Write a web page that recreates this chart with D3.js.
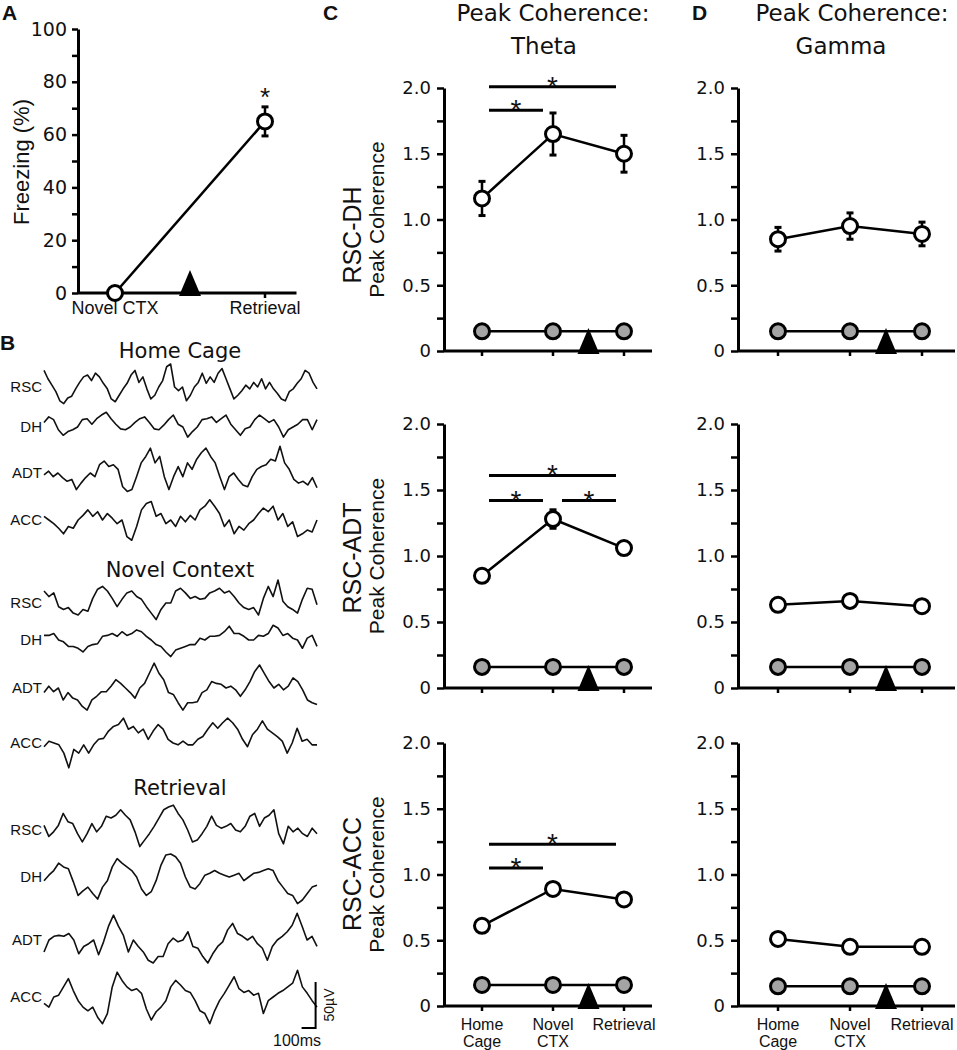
<!DOCTYPE html>
<html>
<head>
<meta charset="utf-8">
<script src="https://cdn.jsdelivr.net/npm/d3@7"></script>
<style>
body { margin: 0; background: #fff; }
text { fill: #111; }
</style>
</head>
<body>
<script>
//---------------- data ----------------
//panel A: freezing
var freezeGroups = ["Novel CTX", "Retrieval"];
var freezing = [0, 65];
var freezingErr = [0, 5.5];
var freezeTicks = [0, 10, 20, 30, 40, 50, 60, 70, 80, 90, 100];

//panel B: example LFP traces (uV, evenly sampled over the sweep)
var traceSites = ["RSC", "DH", "ADT", "ACC"];
var traceSessions = ["Home Cage", "Novel Context", "Retrieval"];
var traceDuration = 1950; //ms

var hcRSC = [18,9,2,-5,-15,-18,-12,-10,-2,5,11,13,7,15,11,4,-2,-13,-16,-9,-2,4,13,18,5,11,-2,-13,-9,0,7,22,25,0,-4,0,-15,-9,0,5,15,4,11,5,15,20,9,-2,-13,-9,-4,2,-2,5,0,9,-2,5,-2,-7,-13,-15,-5,-2,4,9,18,15,5,-2];
var hcDH = [5,11,8,-3,-9,-5,-3,0,8,9,3,9,13,16,9,3,-2,-3,0,5,9,11,5,-2,-3,2,8,13,3,0,-11,-5,0,8,9,11,5,9,13,3,-3,-9,-2,0,8,13,9,5,8,0,-11,-3,0,3,8,8,-3,8];
var hcADT = [-2,2,-4,0,-5,-9,-7,-18,-11,-5,0,-4,9,13,7,9,4,-15,-20,-18,-4,11,18,27,11,18,-4,-18,-4,7,-4,11,4,15,22,27,18,11,-4,-18,-4,0,-7,-13,-15,-4,4,7,9,15,13,29,11,4,-7,-11,-9,-13,-5,-16];
var hcACC = [4,0,-4,-9,-15,-7,-9,0,5,11,4,9,0,7,2,-4,0,-18,-22,-7,11,18,20,4,7,-4,0,-7,4,-2,5,0,11,15,22,15,7,-7,0,-15,-7,-11,-4,0,7,13,9,15,0,7,-7,-2,-18,-15,-11,-13,0];

var ncRSC = [13,7,11,-4,-7,-5,-11,-13,-7,-9,5,15,18,13,5,-4,4,11,13,7,4,-4,-11,-18,-7,0,0,13,16,11,5,7,4,5,11,13,16,11,13,7,0,-5,-7,-5,-13,5,18,7,25,2,-4,-7,-11,4,16,15,-2];
var ncDH = [5,5,7,0,-2,-7,-7,-9,-13,-7,-5,-4,4,5,7,4,9,5,7,11,9,4,0,-5,-7,-13,-18,-11,-9,-7,-5,-5,2,0,4,4,5,9,15,7,7,4,0,0,5,4,7,16,13,5,7,2,0,-9,2,5,-7];
var ncADT = [-5,2,-4,0,-13,-5,-11,-13,-20,-24,-13,-9,-4,-4,2,9,5,0,-5,-11,0,5,16,27,16,9,-5,-7,-16,-24,-16,-16,-15,-5,-2,7,5,4,0,2,-2,-9,-2,7,18,25,16,7,0,4,-2,2,11,7,-2,-13,-16,-18];
var ncACC = [-4,2,0,-2,-11,-27,-7,-11,-2,-11,-2,4,5,13,18,20,27,15,18,11,15,4,13,20,15,4,0,-2,2,-2,-2,4,7,15,22,16,22,27,22,15,4,-4,9,15,24,15,11,7,2,-11,0,16,2,4,-2,-2];

var rtRSC = [5,-7,-2,5,18,9,7,-4,-13,-4,7,-2,4,15,13,16,22,16,11,-2,-18,-11,-4,4,13,22,25,27,18,11,0,-13,-11,-4,4,15,5,2,4,7,0,-2,4,15,18,4,13,16,22,-4,-15,4,-2,2,-4,-7,2,-4];
var rtDH = [-4,2,7,15,11,9,-5,-20,-15,-11,-18,-24,-11,-4,11,20,15,11,7,0,-13,-20,-16,-4,13,24,25,22,15,0,-11,-13,-7,2,4,7,4,2,0,2,4,-4,0,4,5,7,9,7,-4,-11,-18,-20,-29,-25,-18,-11,-9];
var rtADT = [-13,0,4,5,4,7,0,-15,-7,-4,0,-16,-2,15,27,15,5,-13,0,-7,-13,-22,-25,-18,-18,-4,2,-2,0,9,-7,-9,-18,-25,-15,-7,-2,11,18,7,4,0,4,-4,-9,-22,-7,0,4,9,16,29,15,0,4,-7];
var rtACC = [-7,-11,0,2,11,20,7,-4,-11,-15,-11,-22,-29,-18,11,27,18,11,7,9,4,-13,-25,-16,-11,-4,11,18,13,7,5,-4,-15,-18,-29,-15,-4,4,13,22,9,5,7,2,4,-18,-4,0,4,7,11,15,29,11,4,-4,-11];

//panels C and D: peak coherence
var sessions = [["Home", "Cage"], ["Novel", "CTX"], ["Retrieval"]];
var coherenceTicks = [0, 0.25, 0.5, 0.75, 1, 1.25, 1.5, 1.75, 2];

var thetaDH = [1.16, 1.65, 1.50];
var thetaDHErr = [0.13, 0.16, 0.14];
var thetaDHShuf = [0.15, 0.15, 0.15];
var thetaDHSig = [[0, 2, 2.01], [0, 1, 1.83]];

var thetaADT = [0.85, 1.28, 1.06];
var thetaADTErr = [0.03, 0.07, 0.03];
var thetaADTShuf = [0.16, 0.16, 0.16];
var thetaADTSig = [[0, 2, 1.61], [0, 1, 1.42], [1, 2, 1.42]];

var thetaACC = [0.61, 0.89, 0.81];
var thetaACCErr = [0.03, 0.03, 0.03];
var thetaACCShuf = [0.16, 0.16, 0.16];
var thetaACCSig = [[0, 2, 1.23], [0, 1, 1.05]];

var gammaDH = [0.85, 0.95, 0.89];
var gammaDHErr = [0.09, 0.10, 0.09];
var gammaDHShuf = [0.15, 0.15, 0.15];

var gammaADT = [0.63, 0.66, 0.62];
var gammaADTErr = [0.03, 0.03, 0.03];
var gammaADTShuf = [0.16, 0.16, 0.16];

var gammaACC = [0.51, 0.45, 0.45];
var gammaACCErr = [0.02, 0.02, 0.02];
var gammaACCShuf = [0.15, 0.15, 0.15];

//---------------- drawing ----------------
var W = 957, H = 1050;
var grayFill = "#a4a4a4";
var helv = "'Liberation Sans', Arial, sans-serif";
var luc = "'DejaVu Sans', Verdana, sans-serif";

var svg = d3.select("body").append("svg")
    .attr("width", W)
    .attr("height", H);

//panel letters
[["A", 2, 20], ["B", 0, 350], ["C", 323, 20], ["D", 692, 20]].forEach(function (p) {
    svg.append("text")
        .attr("x", p[1]).attr("y", p[2])
        .style("font-family", helv)
        .style("font-weight", "bold")
        .style("font-size", "21px")
        .text(p[0]);
});

//styles an axis group: thick domain, thick ticks, tick label font
function styleAxis(g, font, size) {
    g.select(".domain").attr("stroke", "#000").attr("stroke-width", 3);
    g.selectAll(".tick line").attr("stroke", "#000").attr("stroke-width", 2.5);
    g.selectAll(".tick text")
        .style("font-family", font)
        .style("font-size", size)
        .attr("fill", "#111");
}

//up-pointing triangle that marks conditioning
function drawTriangle(g, x, y0) {
    g.append("path")
        .attr("d", "M" + x + "," + (y0 - 23) + "L" + (x + 11) + "," + (y0 + 3) + "L" + (x - 11) + "," + (y0 + 3) + "Z")
        .attr("fill", "#000");
}

//error bar with caps
function drawErr(g, x, yScale, v, e) {
    if (!e) return;
    g.append("line")
        .attr("x1", x).attr("x2", x)
        .attr("y1", yScale(v - e)).attr("y2", yScale(v + e))
        .attr("stroke", "#000").attr("stroke-width", 2.5);
    [v - e, v + e].forEach(function (w) {
        g.append("line")
            .attr("x1", x - 3.5).attr("x2", x + 3.5)
            .attr("y1", yScale(w)).attr("y2", yScale(w))
            .attr("stroke", "#000").attr("stroke-width", 3);
    });
}

//---------------- panel A ----------------
(function () {
    var g = svg.append("g");
    var yA = d3.scaleLinear().domain([0, 100]).range([293, 29]);
    var xA = d3.scaleLinear().domain([0, 1]).range([115, 265]);

    var yAxis = d3.axisLeft(yA)
        .tickValues(freezeTicks)
        .tickSize(6)
        .tickSizeOuter(0)
        .tickPadding(5)
        .tickFormat(function (d) { return d % 20 === 0 ? d : ""; });
    var ag = g.append("g").attr("transform", "translate(78,0)").call(yAxis);
    styleAxis(ag, luc, "19px");

    //x axis line
    g.append("line")
        .attr("x1", 78).attr("x2", xA(1.21))
        .attr("y1", yA(0)).attr("y2", yA(0))
        .attr("stroke", "#000").attr("stroke-width", 3);
    g.append("line")
        .attr("x1", xA(1)).attr("x2", xA(1))
        .attr("y1", yA(0)).attr("y2", yA(0) + 5)
        .attr("stroke", "#000").attr("stroke-width", 2.5);

    freezeGroups.forEach(function (d, i) {
        g.append("text")
            .attr("x", xA(i)).attr("y", 314)
            .attr("text-anchor", "middle")
            .style("font-family", helv)
            .style("font-size", "18px")
            .text(d);
    });

    g.append("text")
        .attr("transform", "translate(29,162) rotate(-90)")
        .attr("text-anchor", "middle")
        .style("font-family", helv)
        .style("font-size", "22px")
        .text("Freezing (%)");

    drawTriangle(g, xA(0.5), yA(0));

    g.append("path")
        .datum(freezing)
        .attr("d", d3.line().x(function (d, i) { return xA(i); }).y(function (d) { return yA(d); }))
        .attr("fill", "none").attr("stroke", "#000").attr("stroke-width", 2.5);

    freezing.forEach(function (v, i) { drawErr(g, xA(i), yA, v, freezingErr[i]); });

    g.selectAll(".pt").data(freezing).enter().append("circle")
        .attr("cx", function (d, i) { return xA(i); })
        .attr("cy", function (d) { return yA(d); })
        .attr("r", 7.5)
        .attr("fill", "#fff").attr("stroke", "#000").attr("stroke-width", 3);

    g.append("text")
        .attr("x", xA(1)).attr("y", yA(freezing[1] + freezingErr[1]) - 1)
        .attr("text-anchor", "middle")
        .style("font-family", helv)
        .style("font-size", "26px")
        .text("*");
})();

//---------------- panel B ----------------
(function () {
    var g = svg.append("g");
    var traces = [
        [hcRSC, hcDH, hcADT, hcACC],
        [ncRSC, ncDH, ncADT, ncACC],
        [rtRSC, rtDH, rtADT, rtACC]
    ];
    var titleY = [358, 577, 795];
    var centers = [
        [387, 427, 473, 520],
        [603, 640, 688, 743],
        [830, 877, 940, 997]
    ];
    var tScale = d3.scaleLinear().domain([0, traceDuration]).range([44, 317]);
    var uvPx = 46 / 50; //pixels per uV

    traceSessions.forEach(function (s, si) {
        g.append("text")
            .attr("x", 180).attr("y", titleY[si])
            .attr("text-anchor", "middle")
            .style("font-family", luc)
            .style("font-size", "21px")
            .text(s);

        traceSites.forEach(function (site, k) {
            var data = traces[si][k];
            var c = centers[si][k];
            var yT = d3.scaleLinear().domain([0, 1]).range([c, c - uvPx]);
            var xT = d3.scaleLinear().domain([0, data.length - 1]).range([tScale(0), tScale(traceDuration)]);

            g.append("text")
                .attr("x", 42).attr("y", c)
                .attr("dy", "0.35em")
                .attr("text-anchor", "end")
                .style("font-family", helv)
                .style("font-size", "15px")
                .text(site);

            g.append("path")
                .datum(data)
                .attr("d", d3.line()
                    .x(function (d, i) { return xT(i); })
                    .y(function (d) { return yT(d); }))
                .attr("fill", "none")
                .attr("stroke", "#111")
                .attr("stroke-width", 1.6)
                .attr("stroke-linejoin", "round");
        });
    });

    //scale bar: 50 uV, 100 ms
    var barX = tScale(traceDuration - 10), barY = 1028;
    g.append("path")
        .attr("d", "M" + tScale(traceDuration - 110) + "," + barY + "H" + barX + "V" + (barY - 50 * uvPx))
        .attr("fill", "none").attr("stroke", "#000").attr("stroke-width", 2);
    g.append("text")
        .attr("transform", "translate(" + (barX + 18) + "," + (barY - 25 * uvPx) + ") rotate(-90)")
        .attr("text-anchor", "middle")
        .style("font-family", helv)
        .style("font-size", "14px")
        .text("50\u00B5V");
    g.append("text")
        .attr("x", 297).attr("y", 1046)
        .attr("text-anchor", "middle")
        .style("font-family", helv)
        .style("font-size", "16px")
        .text("100ms");
})();

//---------------- panels C and D ----------------
var rows = [[351, 88], [688, 424], [1006, 743]];
var rowLabelMid = [235, 558, 874];
var cols = [
    { axisX: 444, endX: 652, range: [482, 624], title: ["Peak Coherence:", "Theta"], titleX: [553, 544] },
    { axisX: 738, endX: 955, range: [778, 922], title: ["Peak Coherence:", "Gamma"], titleX: [852, 841] }
];
var rowLabels = ["RSC-DH", "RSC-ADT", "RSC-ACC"];

var panels = [
    { col: 0, row: 0, vals: thetaDH, err: thetaDHErr, shuf: thetaDHShuf, sig: thetaDHSig },
    { col: 0, row: 1, vals: thetaADT, err: thetaADTErr, shuf: thetaADTShuf, sig: thetaADTSig },
    { col: 0, row: 2, vals: thetaACC, err: thetaACCErr, shuf: thetaACCShuf, sig: thetaACCSig },
    { col: 1, row: 0, vals: gammaDH, err: gammaDHErr, shuf: gammaDHShuf, sig: [] },
    { col: 1, row: 1, vals: gammaADT, err: gammaADTErr, shuf: gammaADTShuf, sig: [] },
    { col: 1, row: 2, vals: gammaACC, err: gammaACCErr, shuf: gammaACCShuf, sig: [] }
];

//column titles
cols.forEach(function (c) {
    svg.append("text")
        .attr("x", c.titleX[0]).attr("y", 21)
        .attr("text-anchor", "middle")
        .style("font-family", luc)
        .style("font-size", "23px")
        .text(c.title[0]);
    svg.append("text")
        .attr("x", c.titleX[1]).attr("y", 54)
        .attr("text-anchor", "middle")
        .style("font-family", luc)
        .style("font-size", "23px")
        .text(c.title[1]);
});

panels.forEach(function (p) {
    var c = cols[p.col];
    var r = rows[p.row];
    var g = svg.append("g");
    var y = d3.scaleLinear().domain([0, 2]).range(r);
    var x = d3.scaleLinear().domain([0, 2]).range(c.range);

    //y axis
    var yAxis = d3.axisLeft(y)
        .tickValues(coherenceTicks)
        .tickSize(7)
        .tickSizeOuter(0)
        .tickPadding(6)
        .tickFormat(function (d) {
            if (d === 0) return "0";
            return (d * 2) % 1 === 0 ? d3.format(".1f")(d) : "";
        });
    var ag = g.append("g").attr("transform", "translate(" + c.axisX + ",0)").call(yAxis);
    styleAxis(ag, luc, "18px");

    //x axis line + category ticks
    g.append("line")
        .attr("x1", c.axisX).attr("x2", c.endX)
        .attr("y1", y(0)).attr("y2", y(0))
        .attr("stroke", "#000").attr("stroke-width", 3);
    g.selectAll(".xt").data(sessions).enter().append("line")
        .attr("x1", function (d, i) { return x(i); })
        .attr("x2", function (d, i) { return x(i); })
        .attr("y1", y(0)).attr("y2", y(0) + 5)
        .attr("stroke", "#000").attr("stroke-width", 2.5);

    //category labels on the bottom row
    if (p.row === 2) {
        sessions.forEach(function (lines, i) {
            lines.forEach(function (l, j) {
                g.append("text")
                    .attr("x", x(i)).attr("y", 1030 + j * 17)
                    .attr("text-anchor", "middle")
                    .style("font-family", helv)
                    .style("font-size", "16px")
                    .text(l);
            });
        });
    }

    //row labels in column C
    if (p.col === 0) {
        var mid = rowLabelMid[p.row];
        g.append("text")
            .attr("transform", "translate(361," + mid + ") rotate(-90)")
            .attr("text-anchor", "middle")
            .style("font-family", helv)
            .style("font-size", "25px")
            .text(rowLabels[p.row]);
        g.append("text")
            .attr("transform", "translate(384," + (r[0] + r[1]) / 2 + ") rotate(-90)")
            .attr("text-anchor", "middle")
            .style("font-family", helv)
            .style("font-size", "21px")
            .text("Peak Coherence");
    }

    drawTriangle(g, x(1.5), y(0));

    var line = d3.line()
        .x(function (d, i) { return x(i); })
        .y(function (d) { return y(d); });

    //shuffled / baseline series
    g.append("path").datum(p.shuf).attr("d", line)
        .attr("fill", "none").attr("stroke", "#000").attr("stroke-width", 2.5);
    g.selectAll(".sh").data(p.shuf).enter().append("circle")
        .attr("cx", function (d, i) { return x(i); })
        .attr("cy", function (d) { return y(d); })
        .attr("r", 7.5)
        .attr("fill", grayFill).attr("stroke", "#000").attr("stroke-width", 3);

    //observed series
    g.append("path").datum(p.vals).attr("d", line)
        .attr("fill", "none").attr("stroke", "#000").attr("stroke-width", 2.5);
    p.vals.forEach(function (v, i) { drawErr(g, x(i), y, v, p.err[i]); });
    g.selectAll(".ob").data(p.vals).enter().append("circle")
        .attr("cx", function (d, i) { return x(i); })
        .attr("cy", function (d) { return y(d); })
        .attr("r", 7.5)
        .attr("fill", "#fff").attr("stroke", "#000").attr("stroke-width", 3);

    //significance bars
    p.sig.forEach(function (s) {
        var x1 = x(s[0]) + (s[0] === 1 ? 9 : 7);
        var x2 = x(s[1]) - (s[1] === 1 ? 10 : 8);
        g.append("line")
            .attr("x1", x1).attr("x2", x2)
            .attr("y1", y(s[2])).attr("y2", y(s[2]))
            .attr("stroke", "#000").attr("stroke-width", 3);
        g.append("text")
            .attr("x", (x1 + x2) / 2).attr("y", y(s[2]) + 9)
            .attr("text-anchor", "middle")
            .style("font-family", helv)
            .style("font-size", "28px")
            .text("*");
    });
});
</script>
</body>
</html>
